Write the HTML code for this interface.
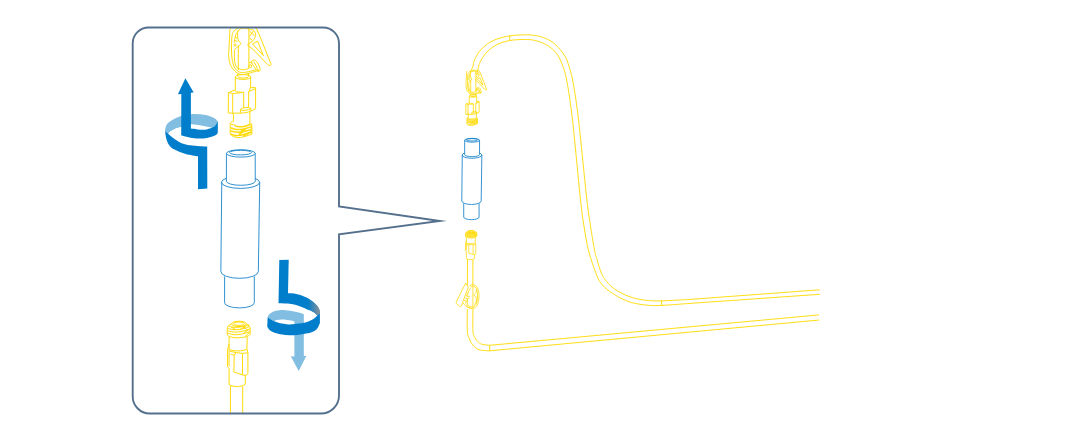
<!DOCTYPE html>
<html lang="en">
<head>
<meta charset="utf-8">
<title>Connector assembly illustration</title>
<style>
html,body{margin:0;padding:0;background:#fff;}
body{width:1081px;height:441px;overflow:hidden;font-family:"Liberation Sans",sans-serif;}
svg{display:block;}
</style>
</head>
<body>
<svg width="1081" height="441" viewBox="0 0 1081 441" role="img" aria-label="Connector assembly illustration">
<rect width="1081" height="441" fill="#fff"/>
<g fill="none" stroke="#ffdb0a" stroke-width="0.95" stroke-linecap="butt">
<path d="M470.40,72.30 C470.83,71.25 472.37,67.92 473.00,66.00 C473.63,64.08 473.12,63.25 474.20,60.80 C475.28,58.35 477.27,54.13 479.50,51.30 C481.73,48.47 484.67,45.85 487.60,43.80 C490.53,41.75 493.40,40.32 497.10,39.00 C500.80,37.68 505.25,36.60 509.80,35.90 C514.35,35.20 520.17,34.87 524.40,34.80 C528.63,34.73 531.58,34.87 535.20,35.50 C538.82,36.13 542.68,37.05 546.10,38.60 C549.52,40.15 552.57,41.90 555.70,44.80 C558.83,47.70 562.68,52.42 564.90,56.00 C567.12,59.58 567.72,62.30 569.00,66.30 C570.28,70.30 571.27,73.13 572.60,80.00 C573.93,86.87 575.65,97.50 577.00,107.50 C578.35,117.50 579.05,124.58 580.70,140.00 C582.35,155.42 585.23,185.47 586.90,200.00 C588.57,214.53 589.43,218.87 590.70,227.20 C591.97,235.53 593.45,244.62 594.50,250.00 C595.55,255.38 596.05,256.17 597.00,259.50 C597.95,262.83 599.10,267.00 600.20,270.00 C601.30,273.00 601.90,274.90 603.60,277.50 C605.30,280.10 608.13,283.40 610.40,285.60 C612.67,287.80 614.37,288.98 617.20,290.70 C620.03,292.42 624.00,294.53 627.40,295.90 C630.80,297.27 634.32,298.15 637.60,298.90 C640.88,299.65 643.10,300.07 647.10,300.40 C651.10,300.73 654.45,301.07 661.60,300.90 C668.75,300.73 685.27,299.65 690.00,299.40 L819.8,289.8"/>
<path d="M477.40,72.30 C477.62,71.25 478.13,67.92 478.70,66.00 C479.27,64.08 479.43,63.13 480.80,60.80 C482.17,58.47 484.18,54.72 486.90,52.00 C489.62,49.28 493.28,46.42 497.10,44.50 C500.92,42.58 505.25,41.33 509.80,40.50 C514.35,39.67 520.17,39.50 524.40,39.50 C528.63,39.50 531.35,39.52 535.20,40.50 C539.05,41.48 543.87,43.15 547.50,45.40 C551.13,47.65 554.43,50.52 557.00,54.00 C559.57,57.48 561.30,61.97 562.90,66.30 C564.50,70.63 565.25,73.13 566.60,80.00 C567.95,86.87 569.67,97.50 571.00,107.50 C572.33,117.50 573.02,124.58 574.60,140.00 C576.18,155.42 578.83,185.00 580.50,200.00 C582.17,215.00 583.28,221.67 584.60,230.00 C585.92,238.33 587.08,244.40 588.40,250.00 C589.72,255.60 591.43,260.27 592.50,263.60 C593.57,266.93 594.08,268.03 594.80,270.00 C595.52,271.97 595.90,273.37 596.80,275.40 C597.70,277.43 598.50,279.87 600.20,282.20 C601.90,284.53 604.17,287.07 607.00,289.40 C609.83,291.73 614.37,294.50 617.20,296.20 C620.03,297.90 621.52,298.52 624.00,299.60 C626.48,300.68 628.25,301.77 632.10,302.70 C635.95,303.63 642.18,304.75 647.10,305.20 C652.02,305.65 654.45,305.70 661.60,305.40 C668.75,305.10 685.27,303.73 690.00,303.40 L819.8,294.3"/>
<path d="M509.8,35.4 L509.8,40.6"/>
<path d="M661.6,300.4 L661.6,305.8"/>
<path d="M467.30,309.10 C467.30,312.67 467.05,325.73 467.30,330.50 C467.55,335.27 468.05,335.48 468.80,337.70 C469.55,339.92 470.62,342.10 471.80,343.80 C472.98,345.50 474.45,346.85 475.90,347.90 C477.35,348.95 478.20,349.62 480.50,350.10 C482.80,350.58 488.17,350.68 489.70,350.80 L819.2,320"/>
<path d="M472.90,309.10 C472.90,312.67 472.65,325.92 472.90,330.50 C473.15,335.08 473.65,334.82 474.40,336.60 C475.15,338.38 476.13,339.92 477.40,341.20 C478.67,342.48 479.95,343.62 482.00,344.30 C484.05,344.98 488.42,345.13 489.70,345.30 L819,314.9"/>
<path d="M489.7,345 L489.7,351"/>
<path d="M467.5,259.3 L467.4,285.7 M472.9,259.3 L472.9,285.7"/>
</g>
<defs><g id="blueconn"><ellipse cx="240.55" cy="182.3" rx="19.1" ry="6.1"/><path d="M221.75,182.3 L220.85,271.5 A18.75,6.8 0 0 0 258.35,271.5 L259.7,182.3"/><path d="M226.45,153.4 L226.4,181.2 A14.42,4.1 0 0 0 255.25,181.2 L255.2,153.4 Z" fill="#fff"/><ellipse cx="240.83" cy="153.4" rx="14.38" ry="3.7" fill="#fff"/><ellipse cx="240.55" cy="152.6" rx="10.95" ry="2.3"/><path d="M224.6,276.4 L224.6,302.8 A14.85,5.1 0 0 0 254.3,302.8 L254.3,276.4"/></g></defs>
<use href="#blueconn" fill="none" stroke="#0b7dc9" stroke-width="0.85"/>
<use href="#blueconn" fill="none" stroke="#0b7dc9" stroke-width="1.6" transform="translate(472.05,138.0) scale(0.517,0.514) translate(-240.7,-149)"/>
<path d="M165.00,130.00 C165.25,129.17 165.67,126.42 166.50,125.00 C167.33,123.58 168.58,122.58 170.00,121.50 C171.42,120.42 173.13,119.42 175.00,118.50 C176.87,117.58 179.37,116.62 181.20,116.00 C183.03,115.38 184.38,115.10 186.00,114.80 C187.62,114.50 189.23,114.33 190.90,114.20 C192.57,114.07 193.50,113.87 196.00,114.00 C198.50,114.13 203.25,114.50 205.90,115.00 C208.55,115.50 210.23,116.30 211.90,117.00 C213.57,117.70 214.90,118.40 215.90,119.20 C216.90,120.00 217.57,121.37 217.90,121.80 L217.00,127.00 C216.50,127.17 215.00,127.92 214.00,128.00 C213.00,128.08 212.33,127.75 211.00,127.50 C209.67,127.25 207.67,126.83 206.00,126.50 C204.33,126.17 202.67,125.80 201.00,125.50 C199.33,125.20 197.68,124.90 196.00,124.70 C194.32,124.50 192.57,124.22 190.90,124.30 C189.23,124.38 187.62,124.78 186.00,125.20 C184.38,125.62 183.03,126.22 181.20,126.80 C179.37,127.38 176.87,127.92 175.00,128.70 C173.13,129.48 171.17,130.68 170.00,131.50 C168.83,132.32 168.80,133.65 168.00,133.60 C167.20,133.55 165.67,131.60 165.20,131.20 Z" fill="#82bde2"/>
<path d="M185.4,78.2 L193.7,92.6 L190.9,92.8 L190.9,128.6 L190.90,128.60 C191.98,128.73 195.38,129.20 197.40,129.40 C199.42,129.60 201.33,129.83 203.00,129.80 C204.67,129.77 205.83,129.58 207.40,129.20 C208.97,128.82 211.07,128.12 212.40,127.50 C213.73,126.88 214.50,126.50 215.40,125.50 C216.30,124.50 217.40,122.17 217.80,121.50 L217.8,132.3 L217.80,132.30 C217.65,132.62 217.80,133.50 216.90,134.20 C216.00,134.90 214.38,135.83 212.40,136.50 C210.42,137.17 207.07,137.85 205.00,138.20 C202.93,138.55 202.08,138.63 200.00,138.60 C197.92,138.57 195.00,138.35 192.50,138.00 C190.00,137.65 186.88,136.95 185.00,136.50 C183.12,136.05 181.83,135.50 181.20,135.30 L181.3,94 L177.9,94.2 Z" fill="#007ecb"/>
<path d="M165.20,131.00 C165.67,131.42 166.78,132.42 168.00,133.50 C169.22,134.58 170.92,136.25 172.50,137.50 C174.08,138.75 175.85,140.00 177.50,141.00 C179.15,142.00 180.32,142.78 182.40,143.50 C184.48,144.22 187.07,144.83 190.00,145.30 C192.93,145.77 197.13,146.10 200.00,146.30 C202.87,146.50 206.00,146.47 207.20,146.50 L207.3,188.6 L198,189.3 L198,156.3 L198.00,156.30 C195.95,155.92 189.53,155.10 185.70,154.00 C181.87,152.90 177.37,150.75 175.00,149.70 C172.63,148.65 172.50,148.48 171.50,147.70 C170.50,146.92 169.75,146.12 169.00,145.00 C168.25,143.88 167.55,142.50 167.00,141.00 C166.45,139.50 166.00,137.67 165.70,136.00 C165.40,134.33 165.28,131.83 165.20,131.00 Z" fill="#007ecb"/>
<path d="M267.70,317.00 C268.00,316.50 268.53,314.92 269.50,314.00 C270.47,313.08 271.83,312.13 273.50,311.50 C275.17,310.87 277.43,310.42 279.50,310.20 C281.57,309.98 283.42,309.98 285.90,310.20 C288.38,310.42 291.97,311.03 294.40,311.50 C296.83,311.97 298.93,312.53 300.50,313.00 C302.07,313.47 303.25,314.08 303.80,314.30 L303.8,356.1 L306.3,356 L298.7,371 L290.8,356.3 L294.4,356.4 L294.40,321.50 C293.82,321.33 292.65,320.83 290.90,320.50 C289.15,320.17 286.22,319.58 283.90,319.50 C281.58,319.42 278.73,319.75 277.00,320.00 C275.27,320.25 274.50,321.08 273.50,321.00 C272.50,320.92 271.97,320.17 271.00,319.50 C270.03,318.83 268.25,317.42 267.70,317.00 Z" fill="#82bde2"/>
<path d="M279.3,260 L288.7,259.7 L288,293.2 L288.00,293.20 C289.00,293.23 291.92,293.10 294.00,293.40 C296.08,293.70 298.43,294.32 300.50,295.00 C302.57,295.68 304.50,296.50 306.40,297.50 C308.30,298.50 310.23,299.75 311.90,301.00 C313.57,302.25 315.23,303.75 316.40,305.00 C317.57,306.25 318.32,307.33 318.90,308.50 C319.48,309.67 319.73,311.42 319.90,312.00 L319.9,323 L319.90,323.00 C319.65,323.58 319.07,325.33 318.40,326.50 C317.73,327.67 317.05,329.05 315.90,330.00 C314.75,330.95 313.15,331.60 311.50,332.20 C309.85,332.80 308.43,333.13 306.00,333.60 C303.57,334.07 299.67,334.73 296.90,335.00 C294.13,335.27 291.88,335.28 289.40,335.20 C286.92,335.12 284.48,334.92 282.00,334.50 C279.52,334.08 276.58,333.45 274.50,332.70 C272.42,331.95 270.72,331.03 269.50,330.00 C268.28,328.97 267.58,327.08 267.20,326.50 L267.7,317 L267.70,317.00 C268.25,317.42 270.03,318.83 271.00,319.50 C271.97,320.17 272.50,320.55 273.50,321.00 C274.50,321.45 275.58,321.77 277.00,322.20 C278.42,322.63 280.10,323.20 282.00,323.60 C283.90,324.00 286.33,324.52 288.40,324.60 C290.47,324.68 291.82,324.42 294.40,324.10 C296.98,323.78 301.48,323.18 303.90,322.70 C306.32,322.22 307.23,321.87 308.90,321.20 C310.57,320.53 312.48,319.65 313.90,318.70 C315.32,317.75 316.82,316.03 317.40,315.50 L317.40,315.50 C316.82,314.97 315.13,313.17 313.90,312.30 C312.67,311.43 311.25,310.85 310.00,310.30 C308.75,309.75 308.23,309.72 306.40,309.00 C304.57,308.28 301.48,306.83 299.00,306.00 C296.52,305.17 294.00,304.43 291.50,304.00 C289.00,303.57 286.17,303.52 284.00,303.40 C281.83,303.28 279.42,303.32 278.50,303.30 Z" fill="#007ecb"/>
<defs><linearGradient id="gr" gradientUnits="userSpaceOnUse" x1="308" y1="0" x2="320" y2="0"><stop offset="0" stop-color="#007ecb"/><stop offset="1" stop-color="#8f9194"/></linearGradient></defs>
<path d="M306.40,297.50 C307.32,298.08 310.23,299.75 311.90,301.00 C313.57,302.25 315.23,303.75 316.40,305.00 C317.57,306.25 318.32,307.33 318.90,308.50 C319.48,309.67 319.73,311.42 319.90,312.00 L319.9,313.2 L317.4,315.5 L317.40,315.50 C316.82,314.97 315.13,313.17 313.90,312.30 C312.67,311.43 311.25,310.85 310.00,310.30 C308.75,309.75 307.00,309.22 306.40,309.00 Z" fill="url(#gr)"/>
<defs><g id="upconn"><path d="M238.3,45.5 L238.3,70 M248.9,28.6 L248.9,68.5 M231.20,27.80 C230.98,28.17 230.17,28.63 229.90,30.00 C229.63,31.37 229.77,32.67 229.60,36.00 C229.43,39.33 229.05,46.62 228.90,50.00 C228.75,53.38 228.47,53.87 228.70,56.30 C228.93,58.73 229.30,62.15 230.30,64.60 C231.30,67.05 233.02,69.37 234.70,71.00 C236.38,72.63 238.50,73.88 240.40,74.40 C242.30,74.92 244.08,74.47 246.10,74.10 C248.12,73.73 250.27,72.83 252.50,72.20 C254.73,71.57 258.33,70.62 259.50,70.30 M256.30,28.10 C255.25,27.80 252.22,26.55 250.00,26.30 C247.78,26.05 245.23,26.18 243.00,26.60 C240.77,27.02 238.25,27.85 236.60,28.80 C234.95,29.75 233.90,30.77 233.10,32.30 C232.30,33.83 232.07,35.05 231.80,38.00 C231.53,40.95 231.43,46.42 231.50,50.00 C231.57,53.58 231.67,56.53 232.20,59.50 C232.73,62.47 233.43,65.68 234.70,67.80 C235.97,69.92 237.90,71.47 239.80,72.20 C241.70,72.93 243.35,72.62 246.10,72.20 C248.85,71.78 254.60,70.12 256.30,69.70 M249.30,28.90 C248.25,28.78 244.70,28.02 243.00,28.20 C241.30,28.38 240.32,28.90 239.10,30.00 C237.88,31.10 236.43,33.15 235.70,34.80 C234.97,36.45 234.95,38.53 234.70,39.90 C234.45,41.27 234.28,42.48 234.20,43.00 M234.70,49.10 C234.65,49.58 234.40,49.95 234.40,52.00 C234.40,54.05 234.23,58.77 234.70,61.40 C235.17,64.03 235.82,66.42 237.20,67.80 C238.58,69.18 241.08,69.60 243.00,69.70 C244.92,69.80 247.75,68.62 248.70,68.40 M237.90,30.30 C237.83,31.15 237.45,33.80 237.50,35.40 C237.55,37.00 237.67,38.52 238.20,39.90 C238.73,41.28 240.65,42.65 240.70,43.70 C240.75,44.75 239.50,45.30 238.50,46.20 C237.50,47.10 235.33,48.62 234.70,49.10 M235.2,37 L237.4,38.5 M234.8,40.5 L237.6,41.5 M236.1,45 A1,1 0 1 1 234.1,45 A1,1 0 1 1 236.1,45 M249.30,29.10 C250.03,29.30 252.63,29.25 253.70,30.30 C254.77,31.35 255.80,33.70 255.70,35.40 C255.60,37.10 254.27,39.12 253.10,40.50 C251.93,41.88 249.60,42.90 248.70,43.70 C247.80,44.50 247.50,44.77 247.70,45.30 C247.90,45.83 249.53,46.63 249.90,46.90 M249.4,31 L254.6,36 M249.4,36.5 L253.2,31 M249.4,38 L252.6,40.5 M256.30,28.10 L260.10,36.70 L265.80,51.00 L270.90,63.70 L270.90,63.70 C270.85,63.95 270.92,64.92 270.60,65.20 C270.28,65.48 269.70,65.72 269.00,65.40 C268.30,65.08 266.83,63.65 266.40,63.30 L253.7,50 L249.9,46.9 M257.6,41.1 L252.5,43.9 L263.3,55.6 Z M251.80,61.00 C252.25,60.42 253.58,59.78 254.50,60.00 C255.42,60.22 256.50,61.22 257.30,62.30 C258.10,63.38 258.82,65.28 259.30,66.50 C259.78,67.72 260.30,68.78 260.20,69.60 C260.10,70.42 259.32,71.33 258.70,71.40 C258.08,71.47 257.28,70.82 256.50,70.00 C255.72,69.18 254.78,67.58 254.00,66.50 C253.22,65.42 252.17,64.42 251.80,63.50 C251.43,62.58 251.35,61.58 251.80,61.00 Z M253.60,61.50 C253.88,61.92 254.68,62.83 255.30,64.00 C255.92,65.17 256.73,67.33 257.30,68.50 C257.87,69.67 258.47,70.58 258.70,71.00 M251.7,66.2 A1.4,1.5 0 1 1 248.9,66.2 A1.4,1.5 0 1 1 251.7,66.2 M249.00,63.00 C249.33,62.83 250.42,61.92 251.00,62.00 C251.58,62.08 252.25,63.25 252.50,63.50 M237.8,73.6 L237.8,76.2 M248.6,73 L248.6,76.2 M235.3,77 A7.75,2.4 0 0 1 250.8,77 A7.75,2.4 0 0 1 235.3,77 M235.3,77 L235.3,90.4 M250.6,77 L250.6,88 M237.8,76.5 A5.4,1.6 0 0 0 248.6,76.5 M228.5,92.6 L234.3,90.2 L236.4,91.8 L243.7,92.4 L243.7,108 M228.5,92.6 L232.7,93.5 L243.7,92.4 M228.4,92.6 L228.3,113 L232.7,113.2 L240.4,113.1 M232.7,93.5 L232.7,113.2 M249.3,91.3 L250.4,87.6 L255.6,87.7 L255.6,108.7 L250.8,111.2 M249.3,91.3 L255.6,88.6 M248.7,91 L248.6,107.2 M240.4,113.1 L240.4,109.6 C241.5,107.6 249,106.6 250.8,108.4 L250.8,111.2 C247.5,112.6 244,113 240.4,113.1 M240.5,109.8 C243,111 248.5,110.3 250.8,108.6"/></g><g id="upthread"><path d="M233.4,113.2 L233.4,121.6 M249.9,111.4 L249.9,124 M233.40,121.60 C233.03,121.72 231.72,121.97 231.20,122.30 C230.68,122.63 230.20,123.23 230.30,123.60 C230.40,123.97 231.08,124.30 231.80,124.50 C232.52,124.70 234.13,124.75 234.60,124.80 M230.30,123.60 C230.28,124.67 230.18,128.23 230.20,130.00 C230.22,131.77 229.95,133.18 230.40,134.20 C230.85,135.22 231.77,135.53 232.90,136.10 C234.03,136.67 235.40,137.47 237.20,137.60 C239.00,137.73 241.70,137.33 243.70,136.90 C245.70,136.47 247.85,135.48 249.20,135.00 C250.55,134.52 251.37,135.17 251.80,134.00 C252.23,132.83 251.82,129.73 251.80,128.00 C251.78,126.27 251.72,124.33 251.70,123.60 M251.2,123.8 L251.2,134"/><path d="M234.50,125.30 C235.08,125.52 236.73,126.35 238.00,126.60 C239.27,126.85 240.68,126.93 242.10,126.80 C243.52,126.67 245.08,126.23 246.50,125.80 C247.92,125.37 249.92,124.47 250.60,124.20 M230.60,127.80 C231.17,128.00 232.72,128.70 234.00,129.00 C235.28,129.30 236.63,129.62 238.30,129.60 C239.97,129.58 241.88,129.35 244.00,128.90 C246.12,128.45 249.83,127.23 251.00,126.90 M230.60,130.80 C231.17,130.97 232.72,131.55 234.00,131.80 C235.28,132.05 236.63,132.33 238.30,132.30 C239.97,132.27 241.85,132.05 244.00,131.60 C246.15,131.15 250.00,129.93 251.20,129.60 M230.60,133.80 C231.17,134.03 232.90,134.90 234.00,135.20 C235.10,135.50 235.58,135.70 237.20,135.60 C238.82,135.50 241.35,135.22 243.70,134.60 C246.05,133.98 250.03,132.35 251.30,131.90 M239,134.3 L245.5,130.6 M241,131.3 L247,128 M243.5,136 L249.5,132.8" stroke-width="1.5"/></g></defs>
<clipPath id="boxclip"><rect x="133" y="27.4" width="206" height="386"/></clipPath>
<g clip-path="url(#boxclip)"><use href="#upconn" fill="none" stroke="#ffdb0a" stroke-width="1" stroke-linejoin="round"/><use href="#upthread" fill="none" stroke="#ffdb0a" stroke-width="1" stroke-linejoin="round"/></g>
<defs><g id="lowconn"><path d="M231.6,323.9 A7.4,2.7 0 0 1 246.4,323.9 A7.4,2.7 0 0 1 231.6,323.9 M233.6,323.7 A5.4,1.7 0 0 1 244.4,323.7 A5.4,1.7 0 0 1 233.6,323.7 M231.60,323.90 C231.03,324.25 228.92,325.15 228.20,326.00 C227.48,326.85 227.45,327.67 227.30,329.00 C227.15,330.33 227.02,332.78 227.30,334.00 C227.58,335.22 227.88,335.70 229.00,336.30 C230.12,336.90 232.33,337.35 234.00,337.60 C235.67,337.85 237.33,337.87 239.00,337.80 C240.67,337.73 242.50,337.50 244.00,337.20 C245.50,336.90 247.00,336.50 248.00,336.00 C249.00,335.50 249.63,335.37 250.00,334.20 C250.37,333.03 250.32,330.37 250.20,329.00 C250.08,327.63 249.93,326.85 249.30,326.00 C248.67,325.15 246.88,324.25 246.40,323.90 M227.50,328.30 C228.42,328.52 231.08,329.40 233.00,329.60 C234.92,329.80 237.00,329.73 239.00,329.50 C241.00,329.27 243.17,328.75 245.00,328.20 C246.83,327.65 249.17,326.53 250.00,326.20 M227.30,330.80 C228.25,331.00 231.05,331.82 233.00,332.00 C234.95,332.18 237.00,332.12 239.00,331.90 C241.00,331.68 243.13,331.22 245.00,330.70 C246.87,330.18 249.33,329.12 250.20,328.80 M227.30,333.00 C228.25,333.27 231.05,334.35 233.00,334.60 C234.95,334.85 237.00,334.73 239.00,334.50 C241.00,334.27 243.13,333.70 245.00,333.20 C246.87,332.70 249.33,331.78 250.20,331.50 M228.50,325.80 C229.25,326.03 231.25,326.97 233.00,327.20 C234.75,327.43 237.00,327.38 239.00,327.20 C241.00,327.02 243.28,326.50 245.00,326.10 C246.72,325.70 248.58,325.02 249.30,324.80 M244,327 L248.5,331 M243.5,333.5 L248.8,329.2 M245,336.6 L249.8,332.2 M231,326.8 L235.5,329.5 M240,329.6 L245.8,326 M229.1,337 L229.1,349 C233,351.6 243,351.6 246.9,349 L247.2,337 M229.1,344 L227.6,349.5 L227.4,366.3 L229.1,368.5 L229.1,384.6 M229.1,349 L229.1,366 M229.8,351.2 L236.2,352.6 L234.2,355.2 L230.7,354.2 M234.2,355.2 L233.9,372 L242.5,374.9 L242.5,353.4 L247.9,352.8 M246.9,349 L247.9,352.8 L247.9,372.5 C247.9,374.5 246.5,375.2 245,375.4 L242.5,374.9 M236.2,352.6 L242.5,353.4 M245.3,375.6 L245.3,384.4 C241,387.3 233.5,387.3 229.1,384.6"/></g></defs>
<g clip-path="url(#boxclip)" fill="none" stroke="#ffdb0a" stroke-width="1" stroke-linejoin="round"><use href="#lowconn"/><path d="M230.4,386 L230.4,414 M242.7,386.3 L242.7,414"/></g>
<use href="#upconn" fill="none" stroke="#ffdb0a" stroke-width="1.7" stroke-linejoin="round" transform="translate(354.9,56.8) scale(0.486,0.509)"/>
<use href="#upthread" fill="none" stroke="#ffdb0a" stroke-width="1.7" stroke-linejoin="round" transform="translate(354.9,55.5) scale(0.486,0.509)"/>
<use href="#lowconn" fill="none" stroke="#ffdb0a" stroke-width="1.6" stroke-linejoin="round" transform="translate(471.1,230.3) scale(0.5,0.446) translate(-238.6,-320.8)"/>
<path d="M467.2,118.5 L477.6,117.4 L477.6,122.5 C475.5,124.2 470,124.5 467.2,122.8 Z" fill="#ffdb0a" fill-opacity="0.55"/>
<path d="M466.2,232 C467.5,229.8 474.5,229.8 476.2,232 L476.4,236.9 C474,238.7 468.5,238.7 465.8,237.1 Z" fill="#ffdb0a" fill-opacity="0.55"/>
<path d="M465.60,283.20 L456.10,302.20 L456.50,303.60 L459.90,306.70 L461.20,306.20 L468.30,287.20 Z M469.40,285.90 C470.00,285.68 471.73,284.42 473.00,284.60 C474.27,284.78 476.03,285.65 477.00,287.00 C477.97,288.35 478.50,290.70 478.80,292.70 C479.10,294.70 478.98,297.10 478.80,299.00 C478.62,300.90 478.25,302.72 477.70,304.10 C477.15,305.48 476.35,306.62 475.50,307.30 C474.65,307.98 473.77,308.15 472.60,308.20 C471.43,308.25 469.77,308.07 468.50,307.60 C467.23,307.13 465.88,306.17 465.00,305.40 C464.12,304.63 463.50,303.40 463.20,303.00 M470.60,287.20 C471.03,287.03 472.30,286.07 473.20,286.20 C474.10,286.33 475.30,286.92 476.00,288.00 C476.70,289.08 477.18,290.87 477.40,292.70 C477.62,294.53 477.50,297.18 477.30,299.00 C477.10,300.82 476.83,302.33 476.20,303.60 C475.57,304.87 474.53,306.13 473.50,306.60 C472.47,307.07 471.17,306.75 470.00,306.40 C468.83,306.05 467.08,304.82 466.50,304.50 M470.50,288.00 C470.13,288.67 468.88,290.67 468.30,292.00 C467.72,293.33 466.80,295.27 467.00,296.00 C467.20,296.73 469.37,295.90 469.50,296.40 C469.63,296.90 468.50,297.82 467.80,299.00 C467.10,300.18 465.72,302.75 465.30,303.50 M476.50,289.50 C476.38,290.05 476.25,291.85 475.80,292.80 C475.35,293.75 473.77,294.53 473.80,295.20 C473.83,295.87 475.58,295.83 476.00,296.80 C476.42,297.77 476.53,299.63 476.30,301.00 C476.07,302.37 474.88,304.33 474.60,305.00 M472.9,286 L472.9,307 M467.4,298.5 L467.4,304.8 M463.5,300 L466.5,301.6 M464.6,297.6 L467.4,299.2 M465.6,295.2 L468,296.6 M466.5,292.8 L468.3,293.8 M466.2,305.7 C467.3,307.6 471.5,309.2 474,308" fill="none" stroke="#ffdb0a" stroke-width="0.8" stroke-linejoin="round"/>
<!-- callout box -->
<path d="M148.7,27.5 H323 A16,16 0 0 1 339,43.5 V206.4 L439.9,221 L339,234.4 V395.5 A18,18 0 0 1 321,413.5 H149.7 A17,17 0 0 1 132.7,396.5 V43.5 A16,16 0 0 1 148.7,27.5 Z" fill="none" stroke="#54708d" stroke-width="1.9" stroke-miterlimit="12"/>

</svg>
</body>
</html>
